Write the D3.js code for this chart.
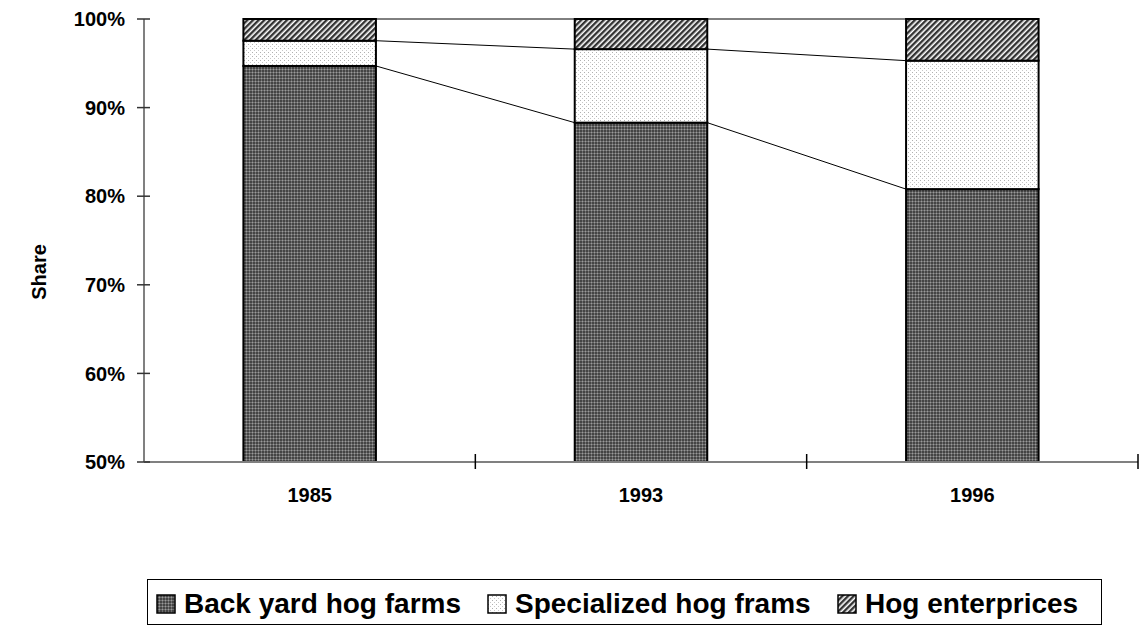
<!DOCTYPE html>
<html>
<head>
<meta charset="utf-8">
<script src="https://cdn.jsdelivr.net/npm/d3@7"></script>
<style>
  html, body { margin: 0; padding: 0; background: #fff; }
  svg { display: block; font-family: "Liberation Sans", Arial, sans-serif; }
</style>
</head>
<body>
<svg id="chart" width="1139" height="626"></svg>
<script>
// Share of hog farms by type (percent)
const years = ["1985", "1993", "1996"];
const seriesNames = ["Back yard hog farms", "Specialized hog frams", "Hog enterprices"];
const backYard = [94.7, 88.3, 80.8];
const specialized = [2.85, 8.3, 14.5];
const enterprises = [2.45, 3.4, 4.7];
const yTicks = [50, 60, 70, 80, 90, 100];

const svg = d3.select("#chart");
const plotLeft = 144, plotRight = 1138, plotTop = 19, plotBottom = 462;

// Fill patterns
const defs = svg.append("defs");
const pDark = defs.append("pattern").attr("id", "pat-dark")
  .attr("patternUnits", "userSpaceOnUse").attr("width", 3).attr("height", 3);
pDark.append("rect").attr("width", 3).attr("height", 3).attr("fill", "#444444");
pDark.append("rect").attr("x", 0).attr("y", 0).attr("width", 3).attr("height", 1).attr("fill", "#6e6e6e");
pDark.append("rect").attr("x", 0).attr("y", 0).attr("width", 1).attr("height", 3).attr("fill", "#6e6e6e");
pDark.append("rect").attr("x", 0).attr("y", 0).attr("width", 1).attr("height", 1).attr("fill", "#9a9a9a");

const pDots = defs.append("pattern").attr("id", "pat-dots")
  .attr("patternUnits", "userSpaceOnUse").attr("width", 4).attr("height", 4);
pDots.append("rect").attr("width", 4).attr("height", 4).attr("fill", "#ffffff");
pDots.append("rect").attr("x", 0).attr("y", 0).attr("width", 1).attr("height", 1).attr("fill", "#b0b0b0");
pDots.append("rect").attr("x", 2).attr("y", 2).attr("width", 1).attr("height", 1).attr("fill", "#c8c8c8");

const pHatch = defs.append("pattern").attr("id", "pat-hatch")
  .attr("patternUnits", "userSpaceOnUse").attr("width", 4).attr("height", 4)
  .attr("patternTransform", "rotate(45)");
pHatch.append("rect").attr("width", 4).attr("height", 4).attr("fill", "#ffffff");
pHatch.append("rect").attr("x", 0).attr("y", 0).attr("width", 2.4).attr("height", 4).attr("fill", "#333333");

const fills = ["url(#pat-dark)", "url(#pat-dots)", "url(#pat-hatch)"];

// Scales
const x = d3.scaleBand().domain(years).range([plotLeft, plotRight])
  .paddingInner(0.6).paddingOuter(0.3);
const y = d3.scaleLinear().domain([50, 100]).range([plotBottom, plotTop]);

// Stack data
const table = years.map((yr, i) => ({
  year: yr,
  [seriesNames[0]]: backYard[i],
  [seriesNames[1]]: specialized[i],
  [seriesNames[2]]: enterprises[i]
}));
const stacked = d3.stack().keys(seriesNames)(table);

// Series connector lines between bars
const connectors = svg.append("g");
stacked.forEach(layer => {
  for (let i = 0; i < years.length - 1; i++) {
    const a = layer[i], b = layer[i + 1];
    connectors.append("line")
      .attr("x1", x(years[i]) + x.bandwidth()).attr("y1", y(a[1]))
      .attr("x2", x(years[i + 1])).attr("y2", y(b[1]))
      .attr("stroke", "#000").attr("stroke-width", 1);
  }
});

// Bars
const clampY = v => y(Math.max(v, 50));
svg.append("g").selectAll("g").data(stacked).join("g")
  .attr("fill", (d, i) => fills[i])
  .selectAll("rect").data(d => d.map((v, i) => ({ v, year: years[i] }))).join("rect")
  .attr("x", d => x(d.year))
  .attr("width", x.bandwidth())
  .attr("y", d => clampY(d.v[1]))
  .attr("height", d => clampY(d.v[0]) - clampY(d.v[1]))
  .attr("stroke", "#000").attr("stroke-width", 2);

// X axis
const xAxis = svg.append("g");
xAxis.append("line").attr("x1", plotLeft).attr("x2", plotRight).attr("y1", plotBottom).attr("y2", plotBottom)
  .attr("stroke", "#808080").attr("stroke-width", 2);
years.forEach(yr => {
  const bx = x(yr) + x.bandwidth() / 2 + x.step() / 2;
  xAxis.append("line").attr("x1", bx).attr("x2", bx).attr("y1", plotBottom - 8).attr("y2", plotBottom + 7)
    .attr("stroke", "#000").attr("stroke-width", 1.5);
  xAxis.append("text").attr("x", x(yr) + x.bandwidth() / 2).attr("y", 502)
    .attr("text-anchor", "middle").attr("font-weight", "bold").attr("font-size", 20)
    .attr("fill", "#000").text(yr);
});

// Y axis
const yAxis = svg.append("g");
yAxis.append("line").attr("x1", plotLeft).attr("x2", plotLeft).attr("y1", plotTop).attr("y2", plotBottom)
  .attr("stroke", "#808080").attr("stroke-width", 2);
yTicks.forEach(t => {
  yAxis.append("line").attr("x1", plotLeft - 7).attr("x2", plotLeft + 6).attr("y1", y(t)).attr("y2", y(t))
    .attr("stroke", "#333").attr("stroke-width", 1.5);
  yAxis.append("text").attr("x", 125).attr("y", y(t)).attr("dy", "0.36em")
    .attr("text-anchor", "end").attr("font-weight", "bold").attr("font-size", 20)
    .attr("fill", "#000").text(t + "%");
});

// Y axis title
svg.append("text").attr("transform", "translate(46,272) rotate(-90)")
  .attr("text-anchor", "middle").attr("font-weight", "bold").attr("font-size", 20)
  .attr("fill", "#000").text("Share");

// Legend
const legend = svg.append("g");
legend.append("rect").attr("x", 147.5).attr("y", 579.5).attr("width", 954).attr("height", 45)
  .attr("fill", "#fff").attr("stroke", "#000").attr("stroke-width", 1);
const legendX = [157, 488, 838];
seriesNames.forEach((name, i) => {
  legend.append("rect").attr("x", legendX[i]).attr("y", 595).attr("width", 18).attr("height", 18)
    .attr("fill", fills[i]).attr("stroke", "#000").attr("stroke-width", 1.5);
  legend.append("text").attr("x", legendX[i] + 27).attr("y", 613)
    .attr("font-weight", "bold").attr("font-size", 28).attr("fill", "#000").text(name);
});
</script>
</body>
</html>
